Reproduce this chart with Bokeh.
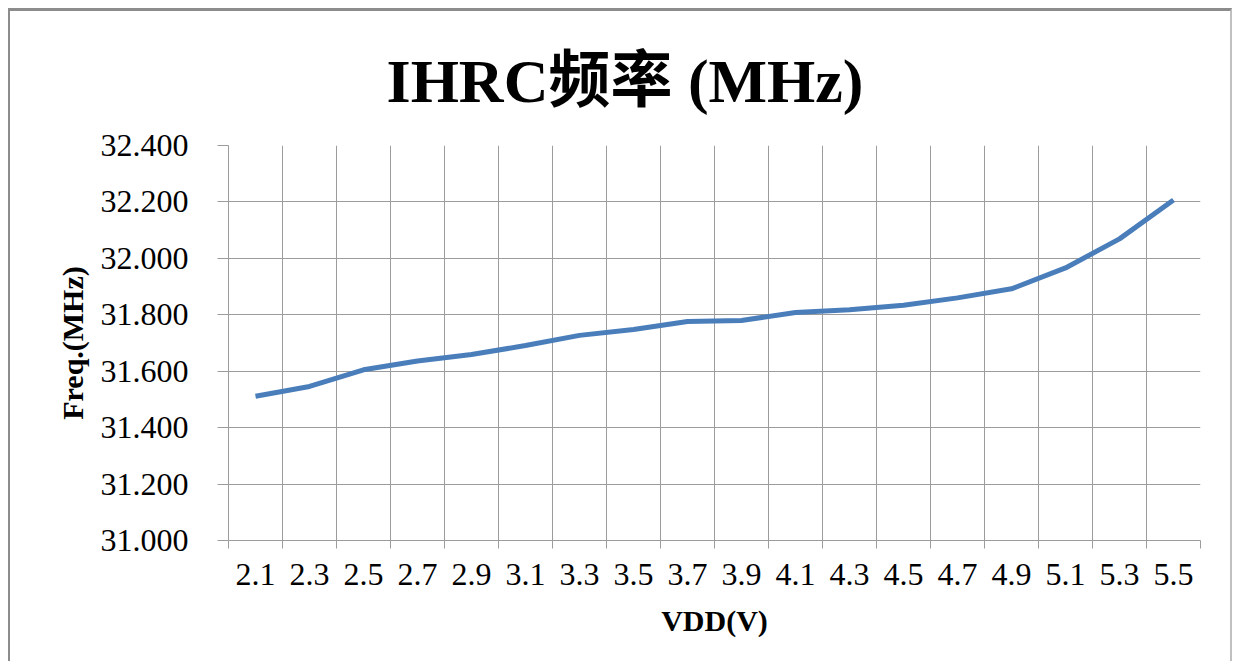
from bokeh.plotting import figure
from bokeh.models import Range1d, FixedTicker, NumeralTickFormatter, ColumnDataSource
from bokeh.embed import file_html
from bokeh.resources import INLINE

vdd = ["2.1", "2.3", "2.5", "2.7", "2.9", "3.1", "3.3", "3.5", "3.7",
       "3.9", "4.1", "4.3", "4.5", "4.7", "4.9", "5.1", "5.3", "5.5"]
freq = [31.511, 31.546, 31.605, 31.636, 31.659, 31.691, 31.727, 31.748, 31.776,
        31.780, 31.808, 31.818, 31.834, 31.860, 31.892, 31.966, 32.069, 32.207]
y_ticks = [31.0, 31.2, 31.4, 31.6, 31.8, 32.0, 32.2, 32.4]

n = len(vdd)
xpos = [i + 0.5 for i in range(n)]
bounds = list(range(n + 1))

SERIF = "Liberation Serif, Noto Sans CJK SC"
GRID = "#9c9c9c"

p = figure(width=1224, height=653, output_backend="svg", toolbar_location=None,
           x_range=Range1d(0, n), y_range=Range1d(31.0, 32.4),
           min_border_left=218, min_border_right=34, min_border_top=134,
           min_border_bottom=124)
p.styles = {"margin-left": "8px", "margin-top": "8px",
            "border-left": "2px solid #8c8c8c", "border-top": "3px solid #8c8c8c",
            "border-right": "2px solid #c0c0c0"}
p.outline_line_color = None

p.title.text = "IHRC频率 (MHz)"
p.title.align = "left"
p.title.offset = 158
p.title.vertical_align = "top"
p.title.text_font = SERIF
p.title.text_font_style = "bold"
p.title.text_font_size = "62px"
p.title.text_color = "#000000"
p.title.standoff = 58

src = ColumnDataSource(dict(x=xpos, y=freq))
p.line("x", "y", source=src, line_color="#4a7ebb", line_width=5)

# x axis: labels at category centres, ticks/grid at category boundaries
p.xaxis.ticker = FixedTicker(ticks=xpos, minor_ticks=bounds)
p.xaxis.major_label_overrides = {x: lab for x, lab in zip(xpos, vdd)}
p.xaxis.major_tick_out = 0
p.xaxis.major_tick_in = 0
p.xaxis.minor_tick_out = 8
p.xaxis.minor_tick_in = 0
p.xaxis.minor_tick_line_color = GRID
p.xaxis.axis_line_color = GRID
p.xaxis.major_label_text_font = SERIF
p.xaxis.major_label_text_font_size = "32px"
p.xaxis.major_label_text_color = "#000000"
p.xaxis.major_label_standoff = 15
p.xaxis.axis_label = "VDD(V)"
p.xaxis.axis_label_text_font = SERIF
p.xaxis.axis_label_text_font_style = "bold"
p.xaxis.axis_label_text_font_size = "30px"
p.xaxis.axis_label_text_color = "#000000"
p.xaxis.axis_label_standoff = 16
p.xgrid.ticker = FixedTicker(ticks=bounds)
p.xgrid.grid_line_color = GRID

# y axis
p.yaxis.ticker = FixedTicker(ticks=y_ticks, minor_ticks=[])
p.yaxis.formatter = NumeralTickFormatter(format="0.000")
p.yaxis.major_tick_out = 11
p.yaxis.major_tick_in = 0
p.yaxis.major_tick_line_color = GRID
p.yaxis.axis_line_color = GRID
p.yaxis.major_label_text_font = SERIF
p.yaxis.major_label_text_font_size = "32px"
p.yaxis.major_label_text_color = "#000000"
p.yaxis.major_label_standoff = 29
p.yaxis.axis_label = "Freq.(MHz)"
p.yaxis.axis_label_text_font = SERIF
p.yaxis.axis_label_text_font_style = "bold"
p.yaxis.axis_label_text_font_size = "30px"
p.yaxis.axis_label_text_color = "#000000"
p.yaxis.axis_label_standoff = 9
p.ygrid.grid_line_color = GRID

open("out.html", "w").write(file_html(p, INLINE))
